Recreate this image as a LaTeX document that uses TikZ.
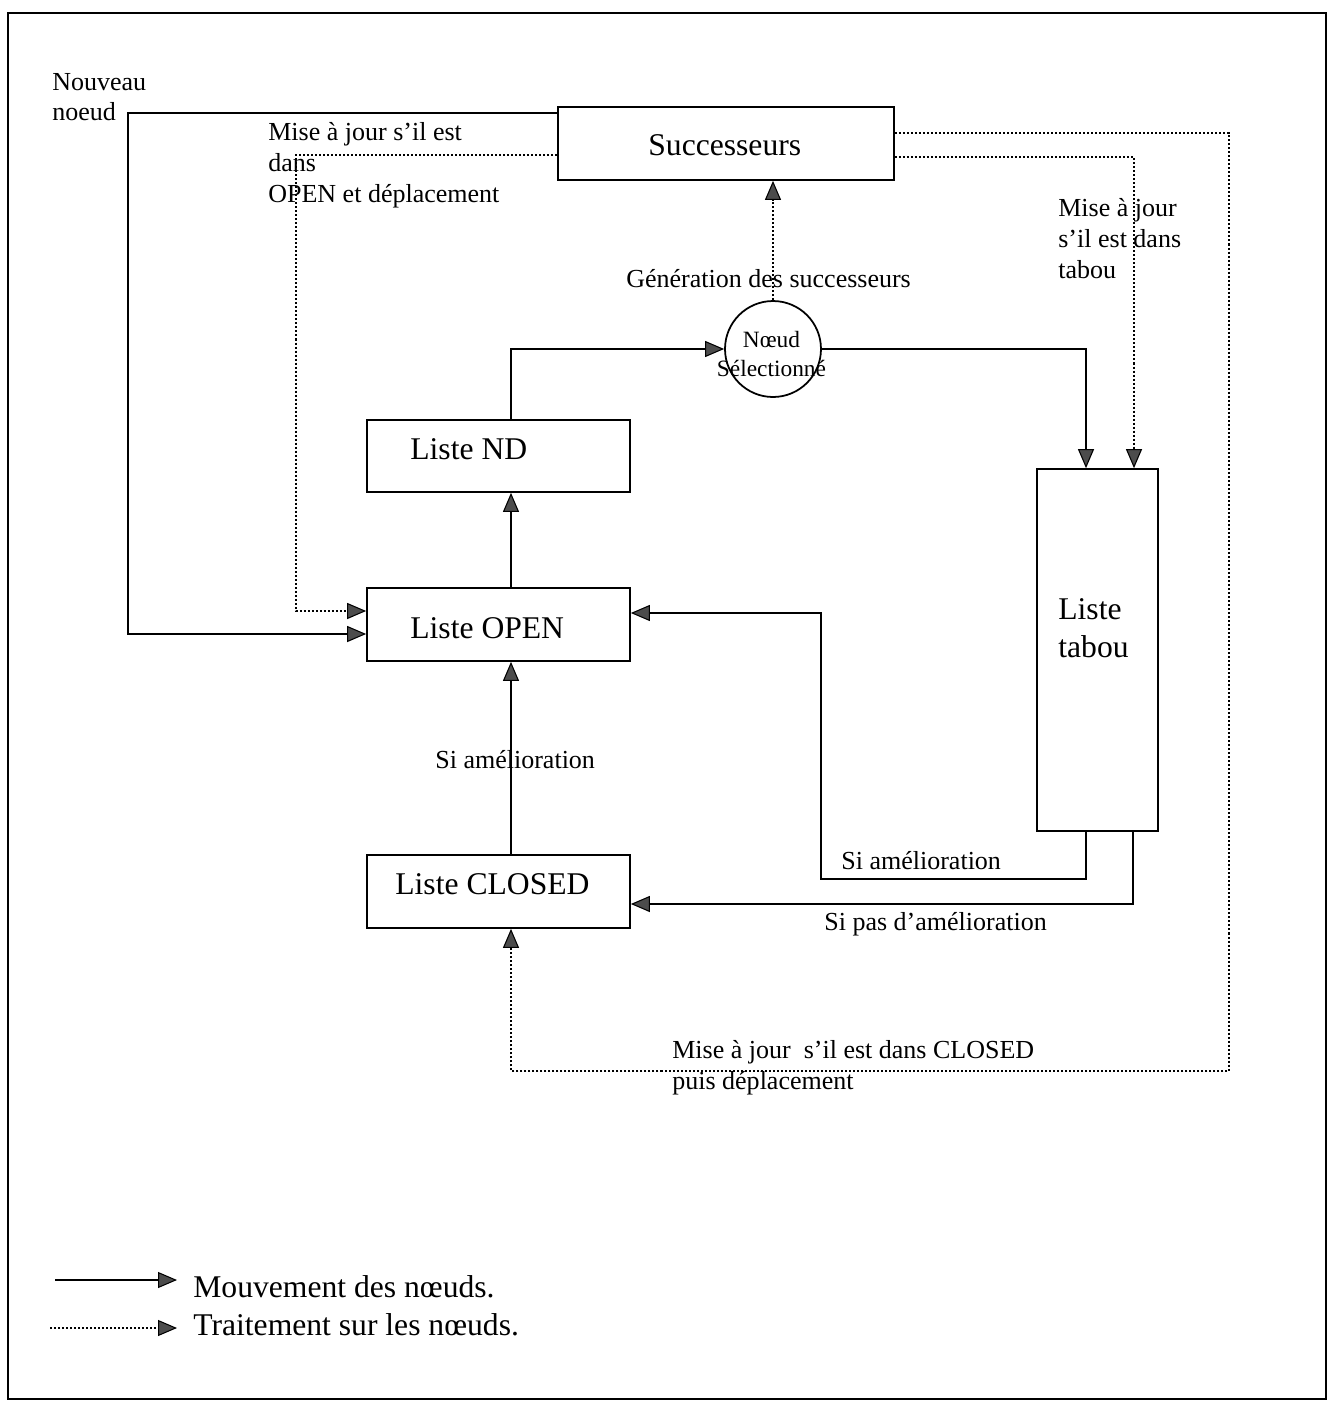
\documentclass[tikz,border=0pt]{standalone}
\usepackage{fontspec}
\setmainfont{Liberation Serif}
\usetikzlibrary{arrows.meta}
\begin{document}
\begin{tikzpicture}[x=0.02cm,y=-0.02cm,
  box/.style={draw,line width=1pt,inner sep=0pt},
  tip/.style={-{Triangle[length=0.38cm,width=0.32cm,fill=black!70,line width=0.6pt]}},
  move/.style={line width=1pt,tip},
  treat/.style={line width=1.1pt,dash pattern=on 1.14pt off 1.14pt,tip},
  txt/.style={inner sep=0pt,anchor=base west,font=\fontsize{14.8}{17.8}\selectfont},
  btxt/.style={inner sep=0pt,anchor=base west,font=\fontsize{18}{21}\selectfont}]
\useasboundingbox (0,0) rectangle (1329,1401);
\draw[line width=1pt] (8,13) rectangle (1326,1399);

% boxes
\node[box,minimum width=6.72cm,minimum height=1.46cm] (succ) at (726,143.5) {};
\node[box,minimum width=5.26cm,minimum height=1.44cm] (nd) at (498.5,456) {};
\node[box,minimum width=5.26cm,minimum height=1.46cm] (open) at (498.5,624.5) {};
\node[box,minimum width=5.26cm,minimum height=1.46cm] (closed) at (498.5,891.5) {};
\node[box,minimum width=2.42cm,minimum height=7.24cm] (tabou) at (1097.5,650) {};
\node[box,circle,minimum size=1.92cm] (sel) at (773,349) {};

% box labels
\node[btxt] (succtxt) at (648,155) {Successeurs};
\node[btxt] (ndtxt) at (410,459) {Liste ND};
\node[btxt] (opentxt) at (410,638) {Liste OPEN};
\node[btxt] (closedtxt) at (395,894) {Liste CLOSED};
\node[btxt] (tabtxt1) at (1058,619) {Liste};
\node[btxt] (tabtxt2) at (1058,657) {tabou};
\node[inner sep=0pt,align=center,font=\fontsize{13.3}{16.5}\selectfont] (seltxt) at (771.5,354) {Nœud\\Sélectionné};

% node movements
\draw[move] (succ.west |- 0,113) -- (128,113) |- (open.west |- 0,634);
\draw[move] (nd.north -| 511,0) |- (sel.west);
\draw[move] (open.north -| 511,0) -- (nd.south -| 511,0);
\draw[move] (closed.north -| 511,0) -- (open.south -| 511,0);
\draw[move] (sel.east) -| (tabou.north -| 1086,0);
\draw[move] (tabou.south -| 1086,0) |- (821,879) |- (open.east |- 0,613);
\draw[move] (tabou.south -| 1133,0) |- (closed.east |- 0,904);

% node processing
\draw[treat] (succ.west |- 0,155) -- (296,155) |- (open.west |- 0,611);
\draw[treat] (sel.north) -- (succ.south -| sel.north);
\draw[treat] (succ.east |- 0,157) -| (tabou.north -| 1134,0);
\draw[treat] (succ.east |- 0,133) -| (1229,1071) -| (closed.south -| 511,0);

% connector labels
\node[txt] (nouv1) at (52,90) {Nouveau};
\node[txt] (nouv2) at (52,120) {noeud};
\node[txt] (mopen1) at (268,140) {Mise à jour s’il est};
\node[txt] (mopen2) at (268,171) {dans};
\node[txt] (mopen3) at (268,202) {OPEN et déplacement};
\node[txt] (mtab1) at (1058,216) {Mise à jour};
\node[txt] (mtab2) at (1058,247) {s’il est dans};
\node[txt] (mtab3) at (1058,278) {tabou};
\node[txt] (gen) at (626,287) {Génération des successeurs};
\node[txt] (siam1) at (435,768) {Si amélioration};
\node[txt] (siam2) at (841,869) {Si amélioration};
\node[txt] (sipas) at (824,930) {Si pas d’amélioration};
\node[txt] (mclo1) at (672,1058) {Mise à jour \ s’il est dans CLOSED};
\node[txt] (mclo2) at (672,1089) {puis déplacement};

% legend
\coordinate (l1a) at (55,1280);
\coordinate (l1b) at (177,1280);
\coordinate (l2a) at (50,1328);
\coordinate (l2b) at (177,1328);
\draw[move] (l1a) -- (l1b);
\draw[treat] (l2a) -- (l2b);
\node[btxt] (leg1) at (193,1297) {Mouvement des nœuds.};
\node[btxt] (leg2) at (193,1335) {Traitement sur les nœuds.};
\end{tikzpicture}
\end{document}
